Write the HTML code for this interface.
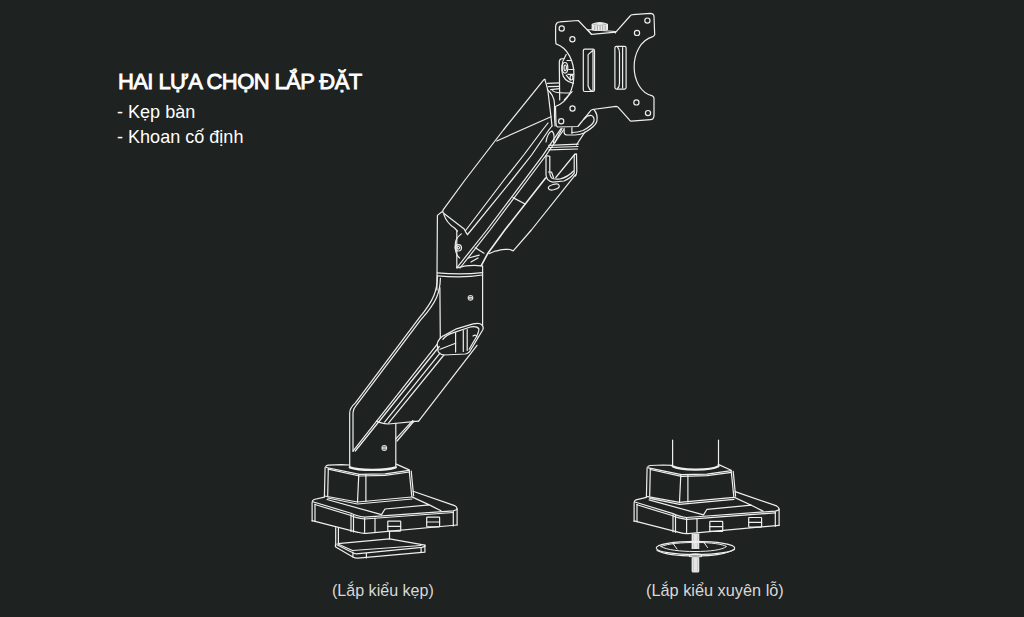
<!DOCTYPE html>
<html><head><meta charset="utf-8">
<style>
html,body{margin:0;padding:0;background:#1e2221;width:1024px;height:617px;overflow:hidden}
.t{position:absolute;font-family:"Liberation Sans",sans-serif;color:#fff;white-space:nowrap;margin:0}
svg{position:absolute;left:0;top:0}
</style></head><body>
<div class="t" id="title" style="left:118px;top:68.5px;font-size:22px;font-weight:normal;-webkit-text-stroke:0.85px #fff;letter-spacing:-0.6px;transform:scaleX(1);transform-origin:0 0">HAI LỰA CHỌN LẮP ĐẶT</div>
<div class="t" id="l1" style="left:117px;top:101px;font-size:19px;transform:scaleX(0.95);transform-origin:0 0">- Kẹp bàn</div>
<div class="t" id="l2" style="left:117px;top:126px;font-size:19px;transform:scaleX(0.95);transform-origin:0 0">- Khoan cố định</div>
<div class="t" id="c1" style="left:331.8px;top:580.8px;font-size:16.4px;color:#d8d8d8;transform:scaleX(0.98);transform-origin:0 0">(Lắp kiểu kẹp)</div>
<div class="t" id="c2" style="left:646px;top:580.8px;font-size:16.4px;color:#d8d8d8;transform:scaleX(0.995);transform-origin:0 0">(Lắp kiểu xuyên lỗ)</div>
<svg width="1024" height="617" viewBox="0 0 1024 617" fill="none" stroke="#eeeeee" stroke-width="1.2" stroke-linejoin="round" stroke-linecap="round">
<!-- ===== monitor plate ===== -->
<path d="M555.6,40 L555.6,27 Q555.6,22 560,21.8 L578.3,20.5 L591.5,34.4 L615.8,32.2 L630.1,16 Q631,14.7 632.7,14.7 L650.2,13.4 Q654,13.5 654,16.5 L654.7,34.8 Q654,36 652.7,36.7 C628,44 628,90 652.5,95.9 Q654,97 654,98.3 L654,115.8 Q653.5,119.5 650.6,119.7 L631.1,121.2 Q630,121 629.2,119.7 L618,107.1 Q617,106.3 616,106.3 L592.5,109.5 Q591,110 590.5,110.9 L577.9,126.5 L557.5,127 Q556,126 556,124 L555.5,106.5 C580,98 580,52 556,43.9 Z"/>
<circle cx="561.7" cy="28.5" r="2.6"/><circle cx="572.4" cy="39.2" r="2.6"/>
<circle cx="647.4" cy="20.6" r="2.6"/><circle cx="637" cy="32.9" r="2.6"/>
<circle cx="572.5" cy="108.5" r="2.6"/><circle cx="561.2" cy="121.2" r="2.6"/>
<circle cx="636.4" cy="102.4" r="2.6"/><circle cx="648" cy="113.1" r="2.6"/>
<rect x="583.3" y="49.2" width="11.2" height="42.3" rx="1.5"/>
<path d="M588.1,54.6 L593,50.2 L593,90.6 M588.1,54.6 L588.1,86 Q589,89.5 592,91.2"/>
<rect x="614.9" y="46.3" width="11.2" height="42.8" rx="1.5"/>
<path d="M622.6,47.5 L622.6,88 M617.5,47 Q619.5,49 619.5,53 L619.5,83 Q619.5,87 617.5,88.5"/>
<!-- knob -->
<path d="M587.6,29.5 L615.4,31.5 L615.4,33 M587.6,29.5 L591.5,34.4"/>
<path d="M592.2,24.2 L592.2,29.6 Q599.8,31.3 607.4,29.6 L607.4,24.2 Q599.8,21.2 592.2,24.2 Z" fill="#ececec"/>
<path d="M593.5,24.5 Q599.8,26.5 606,24.5" stroke="#999" stroke-width="0.7"/>
<path d="M594.8,26 V29.8 M597.4,26.3 V30.3 M600.1,26.3 V30.3 M602.7,26.3 V30.3 M605.2,26 V29.8" stroke="#8a8a8a" stroke-width="0.8"/>
<!-- rotation disc -->
<path d="M559.7,100 L559.3,62.2 Q559.5,59 561.4,58.9 L564.2,58.5 L566.2,54.5"/>
<path d="M564.2,58.5 C561.5,62 561.5,70 562.2,72.7 C563,78 566,82 573.5,83.3"/>
<ellipse cx="565" cy="67.8" rx="2.8" ry="5.3"/><ellipse cx="565.2" cy="67.8" rx="1.2" ry="2.8"/>
<path d="M567,60.5 L571.1,60.5 M568.7,69.5 L573.9,69.5 M567.8,74.3 L573.5,74.3 M566.2,75.1 L570.3,80"/>
<ellipse cx="571.5" cy="77.6" rx="1.4" ry="2.4"/>
<!-- ===== upper arm ===== -->
<path d="M544.9,79.4 L543.7,79.9 L503.4,130 L465,180 L443.3,209.6 Q442,212 444,213.5 L464.2,229 Q466,233 467.5,234.5"/>
<path d="M544.9,79.4 L547.8,90 L551,116.7 L552,126"/>
<path d="M467.5,234.5 L471.3,230 L511.9,180 L531.6,155 L548.8,130 L552,126"/>
<path d="M465.6,230.5 L504,180 L523.75,155 L542.5,130 L548,123"/>
<path d="M496.7,141 L551,116.7"/>
<path d="M547.3,83.3 L559.5,82.8 M548.3,86.7 L559.5,86.3 M550.7,89.6 L559.5,88.6"/>
<path d="M552.6,90.6 C555,92.5 557,93 569.2,93"/>
<path d="M564.3,100 L572.1,91.6"/>
<!-- hook -->
<path d="M593.9,109.5 C597,113 597.5,118 596.8,121.5 C595.5,126 591,129 584,133 C580,134.8 577,135 574.5,135 L566.7,135 Q564.1,134.5 564.1,132.2 L564.1,128.3"/>
<path d="M584,119 Q587.5,115 591.5,115.5 Q594.5,117 594,121 Q592.5,125.5 583,130.5 Q578,132.5 572,132.5"/>
<path d="M571.9,127.7 V133.5 M562.1,128.3 L555,142.6 M584.8,132.2 L576.4,145"/>
<!-- strut bar -->
<path d="M548.8,145.3 L578.3,144.1 M549.5,147.5 L578,146.5 M549,149.8 L577.5,149"/>
<!-- U bracket -->
<path d="M546,156 L546,175 Q546.5,181 552.7,182.2 L564,181 Q571,178 574.2,173.1 L574.2,155.5 Q575,153.8 576.5,153.8 L576.8,171.5 Q576.5,175 575.3,176"/>
<path d="M546,156 Q547.5,155.5 549.8,156.3 L549.8,172.5 Q550,177 552.5,178.5 Q556,179.5 560,179 Q568,177 573.5,171"/>
<path d="M555.8,177.5 L575,154 M548.5,172 L551.5,172 L553.5,177.5"/>
<ellipse cx="553.8" cy="187" rx="5.6" ry="2.6" transform="rotate(-15 553.8 187)"/>
<!-- housing lines -->
<path d="M561,128.6 L542.5,155.9 L486.9,230 L456.8,267.8"/>
<path d="M563.5,130 L545.5,156 L490,230 L460,268"/>
<path d="M547.3,89.7 C551,92 554.5,98 554.5,104 L554.5,117 L555.1,126"/>
<path d="M546,142 C547,136 549,132 552,131 C554,133 554.5,138 553.5,143"/>
<path d="M545.6,178 L504.8,230 L487.9,253.2 L481.1,265.8" stroke-width="1.6"/>
<path d="M575.3,174.8 L531.4,230 L513.2,250.8 C511,250 509,249 508.3,249.3 C504,249.5 502,249.5 500.5,249.8 C498,250.5 496,251 494.7,251.2 L488.9,253.7"/>
<path d="M513,197.6 L525.1,204"/>
<path d="M475.3,247.8 L484,253.2"/>
<path d="M468.5,258 L479.2,255.1 M471,262 L478,258"/>
<!-- ===== elbow cylinder ===== -->
<path d="M436.9,290 L437.4,215.4 L442.3,211.5"/>
<path d="M482.6,265.8 L482.6,325.2"/>
<path d="M456.8,231 L456.8,267.8 Q469,264.5 481.1,265.8"/>
<path d="M461.3,233.9 C456,238 455,241 455.3,245 C455,252 457,256 459.7,258"/>
<path d="M443.8,214.4 C445,218 448,224 454.5,228 L457.4,231"/>
<circle cx="458.3" cy="247.8" r="3.2"/><path d="M456.8,247.8 Q458.3,245 459.8,247.8 Q458.3,250.6 456.8,247.8"/>
<path d="M437.4,272.9 C450,274 470,274 482.6,272.6 M437.9,275.8 C450,277 470,277 482.6,275"/>
<circle cx="470.5" cy="297.8" r="2.9" fill="#dcdcdc" stroke="none"/><path d="M469.3,296.6 H471.7 M469.3,299 H471.7" stroke="#555" stroke-width="0.9"/>
<!-- ===== lower arm ===== -->
<path d="M437.4,275.8 C437.5,290 434,300 419.4,317.7 L355.4,402.9 Q349.7,408 349.7,413 L349.7,467.4"/>
<path d="M440.4,278.3 C440,292 437,302 420.9,319.6 L356.2,405.4 Q353,409 353,413 L353,451.2"/>
<path d="M439.9,287.5 L440.3,337.7"/>
<!-- tube opening -->
<path d="M437.1,344.3 Q438.5,337.5 445.8,334.6 L456.5,328.8 L473.1,323.9 Q480,322.5 481.8,324.9 Q484,327 482.8,329.7 L477,339.4 L471.1,349.2 Q469,353.5 465.3,354 L443.9,355 Q439,354 438.1,351.1 Z"/>
<path d="M442.9,339.4 Q446,335 453.6,332.6 L471.1,326.8 Q477,326 478.9,328.8 Q479,332 476,337.5 L469.2,349.2"/>
<path d="M455.6,332.6 V352.1 M463.3,330.5 V351.5 M467.2,329.5 V350.5"/>
<path d="M440,349.2 L455.6,343.3"/>
<path d="M473,336 Q476,334 477,337"/>
<!-- tube lines -->
<path d="M437.1,344.3 L353,451.2 M439.3,346.5 L355.3,451"/>
<path d="M440,353.1 L384.6,422.1"/>
<path d="M443.9,355 L388.5,423.1"/>
<path d="M477,345.3 L418.6,421.1"/>
<path d="M376.7,421.1 Q380,423.5 388.5,424 L418.6,421.1"/>
<path d="M395.8,423.3 L395.8,467.4"/>
<path d="M395.8,438.9 L412.6,420.7 M397,441 L414,421"/>
<circle cx="384.3" cy="448" r="2.9" fill="#dcdcdc" stroke="none"/><path d="M383.1,446.8 H385.5 M383.1,449.2 H385.5" stroke="#555" stroke-width="0.9"/>
<path d="M349.7,467.4 C358,470.5 385,471 395.8,467.4" stroke-width="2.2"/>
<!-- ===== left base ===== -->
<path d="M325.7,466.7 Q326,465.5 328,465.2 L341.3,464.7 L349.7,465"/>
<path d="M396.2,464.1 L409.2,469.9"/>
<path d="M326.4,467.5 L359.5,474.4 L385,473.8 L409.2,470.3"/>
<path d="M328.3,469.2 L359.5,476 L385,475.4 L409.5,472"/>
<path d="M325.1,467.3 L324.4,496.5 M328.3,468.5 L327.7,495.8"/>
<path d="M358.8,474.4 L357.5,502.3 M365.9,474.4 L365.9,501.5"/>
<path d="M409.2,470.6 L411.8,496.5 M411.2,471 L413.6,495.8"/>
<path d="M324.4,496 L357.5,502 L411.8,497 M327.7,498 L357.5,504 L412,499"/>
<path d="M324.4,497.1 L314,499.5 Q312,500.5 312.1,503 L312.1,521.1"/>
<path d="M413.1,491.3 L454.6,505.6 Q457.1,507 457.1,508.8 L457.1,525"/>
<path d="M312.8,501.7 L351,513.3 Q356,516 364.6,517.2 L453.3,510.8 Q457,510 457.1,508.8"/>
<path d="M315,504.5 L351,515.5 Q356,518 364.6,519 L453.3,512.5"/>
<path d="M315,504 L315,521.5"/>
<path d="M312.1,520.6 L358,532.3 Q362,533.6 366,533.3 L457.1,525"/>
<path d="M351,514.6 L351,531.5 M353.5,515.3 L353.5,532 M364.6,518 L364.6,532.3 M375,518 L375,531.5 M453.3,511.5 L453.3,526"/>
<path d="M327,499.5 L381.5,514.6 L385,509 L429.3,504.9 L441,510.8 M412.4,497.1 L429.3,504.9"/>
<rect x="387.8" y="521.1" width="12.9" height="10" rx="0.5"/><path d="M387.8,526.3 L400.7,526.3"/>
<rect x="426.7" y="517.2" width="12.9" height="9.6" rx="0.5"/><path d="M426.7,522 L439.6,522"/>
<!-- clamp -->
<path d="M335.7,527.5 L335.7,543.6 M338.4,527.5 L338.4,543.6 M389.5,531.8 L389.5,538.8"/>
<path d="M337.9,543.6 L389.5,538.8 L424.9,545.2"/>
<path d="M336.8,544.7 L351.9,552.2 Q353.5,553.8 356.2,553.8 L421.7,547.4 Q424,547 425,546"/>
<path d="M338.5,544.3 L352.5,550.5 L421,545.5"/>
<path d="M335.7,543.6 Q335,545.5 335.7,546.9 L352.9,557 Q355,558.2 358,558.1 L424.9,552.2 L424.9,545.2"/>
<path d="M352.9,552.2 L352.9,557 M366.4,553.3 L366.4,558 M421.1,547.5 L421.1,552.3"/>
<!-- ===== right base ===== -->
<g transform="translate(322,0.3)">
<path d="M325.7,466.7 Q326,465.5 328,465.2 L341.3,464.7 L349.7,465"/>
<path d="M396.2,464.1 L409.2,469.9"/>
<path d="M326.4,467.5 L359.5,474.4 L385,473.8 L409.2,470.3"/>
<path d="M328.3,469.2 L359.5,476 L385,475.4 L409.5,472"/>
<path d="M325.1,467.3 L324.4,496.5 M328.3,468.5 L327.7,495.8"/>
<path d="M358.8,474.4 L357.5,502.3 M365.9,474.4 L365.9,501.5"/>
<path d="M409.2,470.6 L411.8,496.5 M411.2,471 L413.6,495.8"/>
<path d="M324.4,496 L357.5,502 L411.8,497 M327.7,498 L357.5,504 L412,499"/>
<path d="M324.4,497.1 L314,499.5 Q312,500.5 312.1,503 L312.1,521.1"/>
<path d="M413.1,491.3 L454.6,505.6 Q457.1,507 457.1,508.8 L457.1,525"/>
<path d="M312.8,501.7 L351,513.3 Q356,516 364.6,517.2 L453.3,510.8 Q457,510 457.1,508.8"/>
<path d="M315,504.5 L351,515.5 Q356,518 364.6,519 L453.3,512.5"/>
<path d="M315,504 L315,521.5"/>
<path d="M312.1,520.6 L358,532.3 Q362,533.6 366,533.3 L457.1,525"/>
<path d="M351,514.6 L351,531.5 M353.5,515.3 L353.5,532 M364.6,518 L364.6,532.3 M375,518 L375,531.5 M453.3,511.5 L453.3,526"/>
<path d="M327,499.5 L381.5,514.6 L385,509 L429.3,504.9 L441,510.8 M412.4,497.1 L429.3,504.9"/>
<rect x="387.8" y="521.1" width="12.9" height="10" rx="0.5"/><path d="M387.8,526.3 L400.7,526.3"/>
<rect x="426.7" y="517.2" width="12.9" height="9.6" rx="0.5"/><path d="M426.7,522 L439.6,522"/>
</g>
<path d="M672.6,440.2 L672.6,466.3 M718.5,440.2 L718.5,466.3"/>
<path d="M672.6,466.3 C680,470.5 710,471 718.5,466.3" stroke-width="2.2"/>
<!-- bolt & washer -->
<rect x="691.6" y="533.5" width="7.7" height="15.5" fill="#e4e4e4" stroke="none"/>
<path d="M693.5,535 V548 M697.5,535 V548" stroke="#bbb" stroke-width="0.6"/>
<ellipse cx="695.5" cy="548" rx="39.3" ry="6.6" stroke-width="1.1"/>
<path d="M657,550.5 C664,554 680,556 695.5,556 C714,556 728,553 734.5,549.5" stroke-width="1.1"/>
<path d="M661,546.5 C668,543.5 682,542.5 695,542.5 C712,542.5 722,544 726.5,546.5 C722,550 710,551.5 695,551.5 C680,551.5 667,550 661,546.5Z" stroke-width="1"/>
<path d="M673,543.5 L677,549 M704,542.5 L707.5,547.5" stroke-width="1"/>
<path d="M689.5,554.5 Q695.5,553 701.5,554.5 L701.5,556.5 Q695.5,558 689.5,556.5 Z" stroke-width="1.1"/>
<rect x="691.6" y="557.3" width="7.7" height="15.3" rx="1.5" fill="#e4e4e4" stroke="none"/>
<path d="M693.5,559 V571 M697.5,559 V571" stroke="#bbb" stroke-width="0.6"/>

</svg>
</body></html>
